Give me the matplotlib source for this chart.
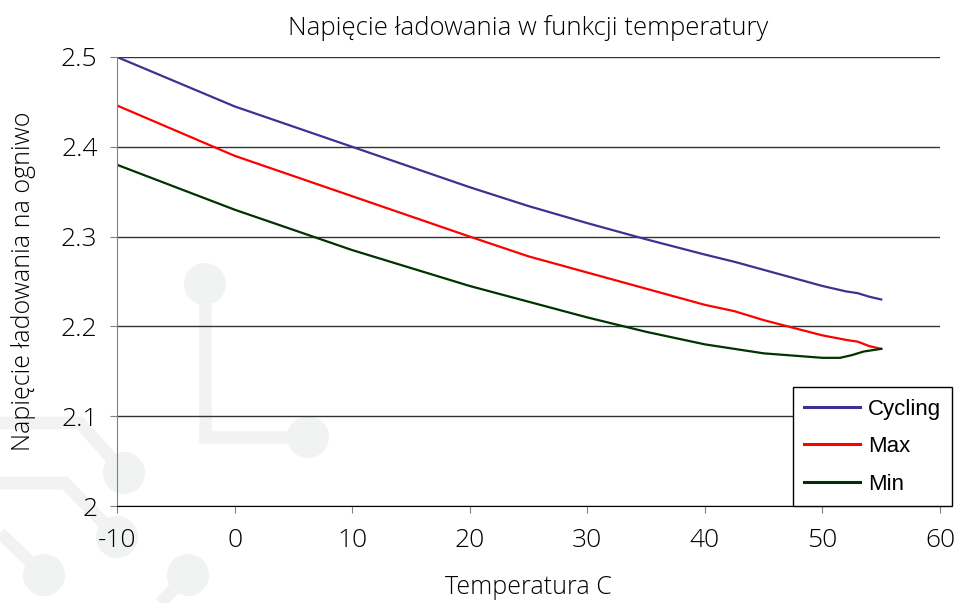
import numpy as np
import matplotlib
matplotlib.use('Agg')
import matplotlib.pyplot as plt
from matplotlib.patches import Circle

plt.rcParams['axes.unicode_minus'] = False

# charge voltage per cell vs temperature
temp = [-10, 0, 10, 20, 25, 30, 35, 40, 42.5, 45, 50, 52, 53, 54, 55]
cycling = [2.500, 2.445, 2.400, 2.355, 2.334, 2.315, 2.297, 2.280, 2.272, 2.263, 2.245, 2.239, 2.237, 2.233, 2.230]
v_max = [2.446, 2.390, 2.345, 2.300, 2.278, 2.260, 2.242, 2.224, 2.217, 2.207, 2.190, 2.185, 2.183, 2.178, 2.175]

temp_min = [-10, 0, 10, 20, 30, 35, 40, 45, 50, 51.5, 52.5, 53.5, 55]
v_min = [2.380, 2.330, 2.285, 2.245, 2.210, 2.194, 2.180, 2.170, 2.165, 2.165, 2.168, 2.172, 2.175]

series = [
    ('Cycling', temp, cycling, '#3c3391'),
    ('Max', temp, v_max, '#ff0000'),
    ('Min', temp_min, v_min, '#003300'),
]

# faint circuit watermark in the background (pixel coords)
wm_color = '#f1f2f2'
wm_paths = [
    [(205, 284), (205, 437), (308, 437)],
    [(0, 423), (80, 423), (124, 473)],
    [(0, 483), (65, 483), (117, 537)],
    [(0, 533), (44, 575)],
    [(188, 575), (160, 603)],
]
wm_dots = [(205, 284), (308, 437), (124, 473), (117, 537), (44, 575), (188, 575)]

fig = plt.figure(figsize=(9.6, 6.03), dpi=100)
bg = fig.add_axes([0, 0, 1, 1], zorder=0)
bg.set_xlim(0, 960)
bg.set_ylim(603, 0)
bg.axis('off')
for p in wm_paths:
    xs, ys = zip(*p)
    bg.plot(xs, ys, color=wm_color, lw=9, solid_capstyle='butt', solid_joinstyle='miter')
for c in wm_dots:
    bg.add_patch(Circle(c, 21, color=wm_color, lw=0))

ax = fig.add_axes([117 / 960, 1 - 506 / 603, (940 - 117) / 960, (506 - 57) / 603], zorder=1)
ax.patch.set_alpha(0)

for name, x, y, col in series:
    ax.plot(x, y, color=col, lw=1.6, label=name)

ax.set_xlim(-10, 60)
ax.set_ylim(2.0, 2.5)
ax.set_xticks(np.arange(-10, 61, 10))
ax.set_yticks([2.0, 2.1, 2.2, 2.3, 2.4, 2.5])
ax.set_yticklabels(['2', '2.1', '2.2', '2.3', '2.4', '2.5'])
ax.yaxis.grid(True, color='#333333', lw=1)
ax.set_axisbelow(True)

ax.spines['top'].set_visible(False)
ax.spines['right'].set_visible(False)
ax.spines['left'].set_color('#808080')
ax.spines['bottom'].set_color('black')
ax.tick_params(axis='y', direction='out', length=5, color='#808080', labelsize=19, pad=9)
ax.tick_params(axis='x', direction='out', length=5, color='#808080', labelsize=19, pad=11)

font = 'Open Sans'
for lab in ax.get_xticklabels() + ax.get_yticklabels():
    lab.set_family(font)
    lab.set_fontweight('light')

ax.set_title('Napięcie ładowania w funkcji temperatury', family=font, fontweight='light',
             fontsize=18.5, pad=16)
ax.set_xlabel('Temperatura C', family=font, fontweight='light', fontsize=18, labelpad=16)
ax.set_ylabel('Napięcie ładowania na ogniwo', family=font, fontweight='light', fontsize=18, labelpad=18)

leg = ax.legend(loc='lower right', bbox_to_anchor=((952 - 117) / 823, 0.0), frameon=True,
                fancybox=False, edgecolor='black', framealpha=1,
                prop={'family': 'Liberation Sans', 'size': 16},
                handlelength=2.5, labelspacing=0.75, borderpad=0.5, handletextpad=0.35,
                borderaxespad=0)
leg.get_frame().set_linewidth(1.0)
for h in leg.get_lines():
    h.set_linewidth(2.2)

fig.savefig('out.png', dpi=100)
